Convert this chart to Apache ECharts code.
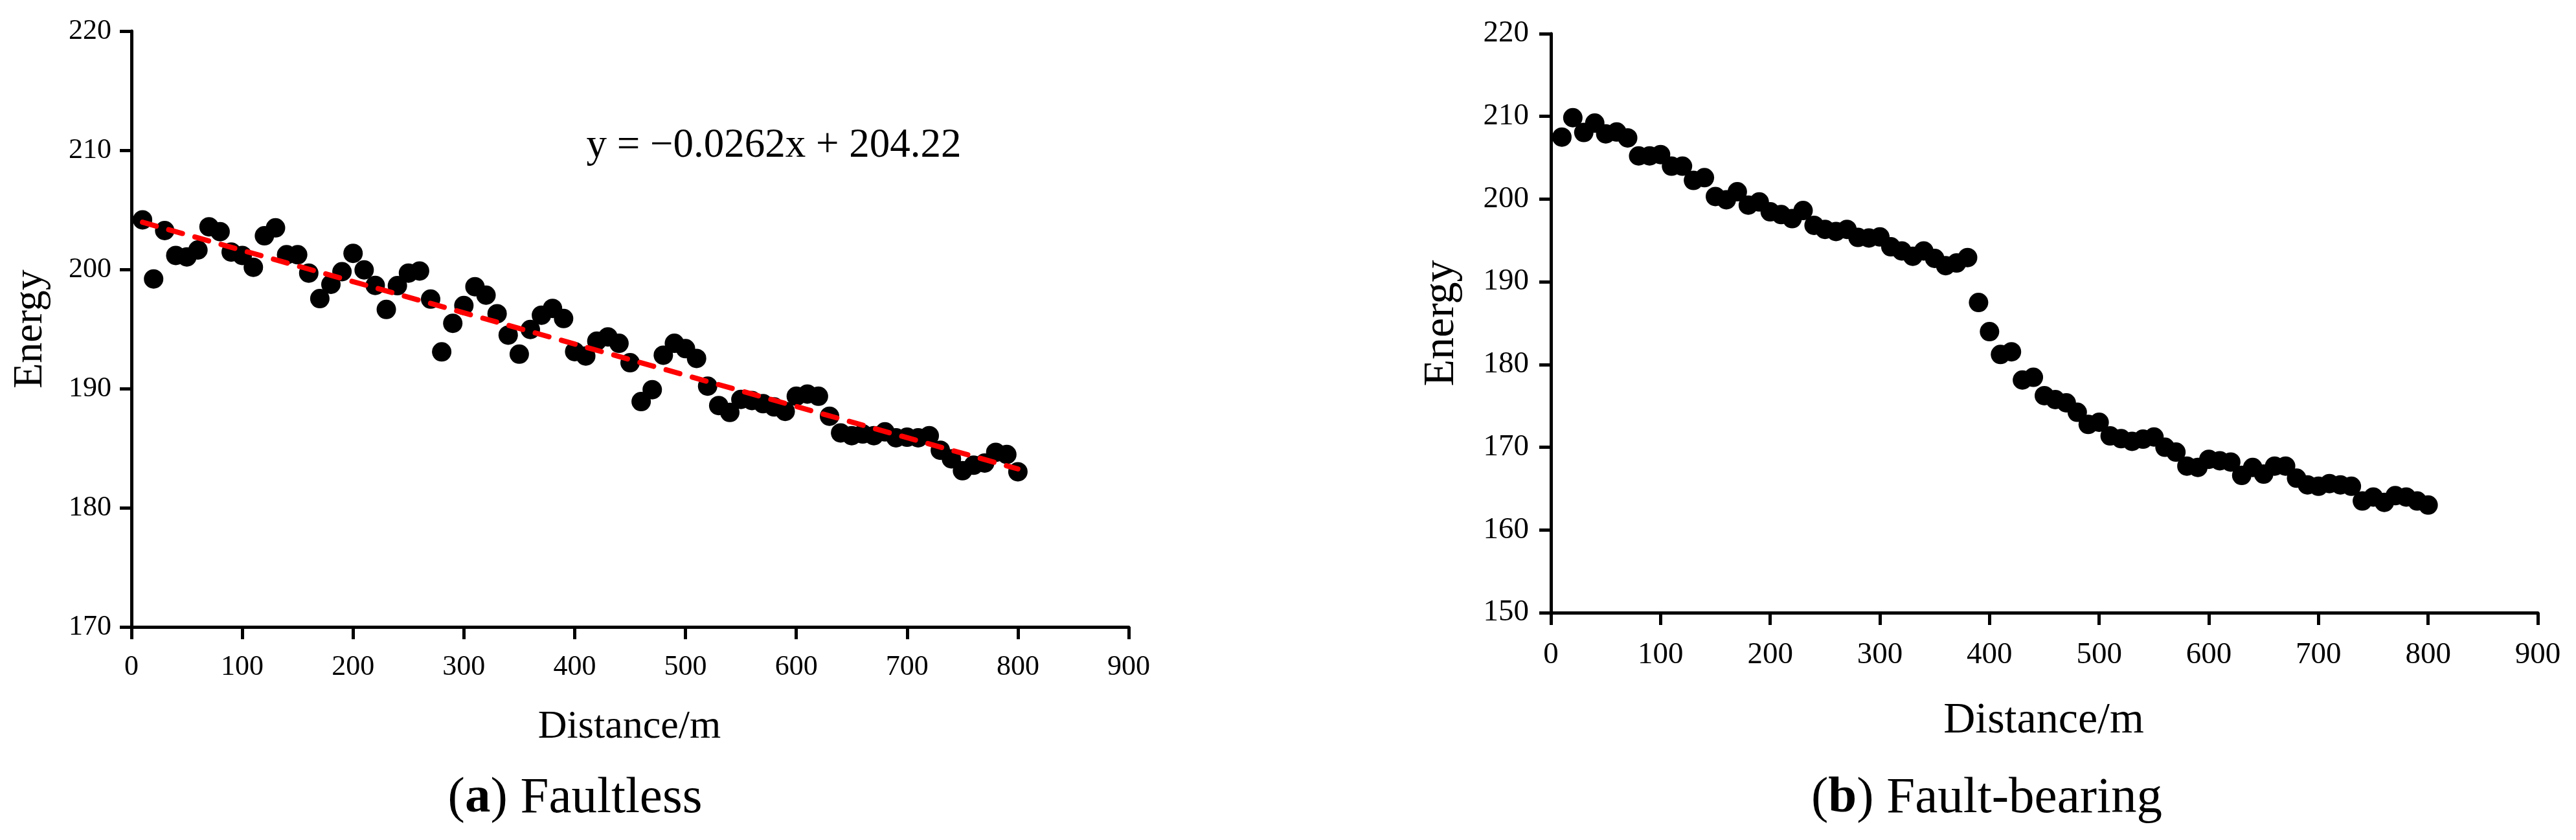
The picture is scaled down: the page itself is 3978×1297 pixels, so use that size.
<!DOCTYPE html>
<html>
<head>
<meta charset="utf-8">
<script src="https://cdn.jsdelivr.net/npm/echarts@6/dist/echarts.min.js"></script>
<style>
html,body{margin:0;padding:0;background:#fff;}
#chart{width:3978px;height:1297px;}
</style>
</head>
<body>
<div id="chart"></div>
<script>
// ---- data ----
const distances = [10,20,30,40,50,60,70,80,90,100,110,120,130,140,150,160,170,180,190,200,
  210,220,230,240,250,260,270,280,290,300,310,320,330,340,350,360,370,380,390,400,
  410,420,430,440,450,460,470,480,490,500,510,520,530,540,550,560,570,580,590,600,
  610,620,630,640,650,660,670,680,690,700,710,720,730,740,750,760,770,780,790,800];

const faultlessEnergy = [204.16,199.2,203.26,201.17,201.05,201.63,203.58,203.17,201.46,201.17,
  200.18,202.82,203.49,201.23,201.23,199.69,197.55,198.75,199.81,201.35,
  199.96,198.66,196.64,198.64,199.69,199.87,197.51,193.08,195.48,196.97,
  198.55,197.84,196.28,194.49,192.89,194.96,196.16,196.73,195.88,193.1,
  192.73,193.98,194.34,193.8,192.17,188.91,189.91,192.8,193.8,193.35,
  192.53,190.21,188.58,188.0,189.09,189.0,188.73,188.46,188.09,189.36,
  189.54,189.36,187.68,186.28,186.05,186.19,186.05,186.37,185.87,185.92,
  185.87,186.05,184.83,184.11,183.11,183.57,183.75,184.65,184.47,183.02];

const faultBearingEnergy = [207.5,209.84,208.05,209.19,207.89,208.11,207.4,205.22,205.22,205.38,
  203.98,203.98,202.26,202.59,200.31,199.92,200.89,199.27,199.66,198.46,
  198.13,197.64,198.62,196.83,196.34,196.08,196.34,195.37,195.3,195.43,
  194.23,193.74,193.09,193.74,192.83,191.95,192.28,192.93,187.5,183.98,
  181.22,181.54,178.13,178.46,176.24,175.76,175.37,174.23,172.76,173.02,
  171.37,171.04,170.72,170.98,171.24,170.0,169.41,167.72,167.56,168.54,
  168.37,168.21,166.59,167.56,166.75,167.72,167.72,166.26,165.45,165.28,
  165.61,165.45,165.28,163.5,163.98,163.33,164.15,163.98,163.5,163.01];

// linear fit shown on panel (a)
const fitSlope = -0.0262;
const fitIntercept = 204.22;
const fitRange = [10, 800];

const xTicks = [0,100,200,300,400,500,600,700,800,900];
const yTicksA = [170,180,190,200,210,220];
const yTicksB = [150,160,170,180,190,200,210,220];

const equationText = 'y = \u22120.0262x + 204.22';
const captionA = ['a', 'Faultless'];
const captionB = ['b', 'Fault-bearing'];

// ---- chart ----
const FONT = 'Liberation Serif';
const chart = echarts.init(document.getElementById('chart'), null, {renderer:'canvas'});

function xAxisCfg(gridIndex, fs) {
  return {
    type:'value', gridIndex, min:xTicks[0], max:xTicks[xTicks.length-1], interval:100,
    axisLine:{show:true, onZero:false, lineStyle:{color:'#000', width:5}},
    axisTick:{show:true, length:19, lineStyle:{color:'#000', width:5}},
    axisLabel:{color:'#000', fontFamily:FONT, fontSize:fs, fontWeight:'normal', margin:gridIndex===0?40:42,
      formatter:function(v){return String(v);}},
    splitLine:{show:false}
  };
}
function yAxisCfg(gridIndex, ticks, fs) {
  return {
    type:'value', gridIndex, min:ticks[0], max:ticks[ticks.length-1], interval:10,
    axisLine:{show:true, onZero:false, lineStyle:{color:'#000', width:5}},
    axisTick:{show:true, length:18, lineStyle:{color:'#000', width:5}},
    axisLabel:{color:'#000', fontFamily:FONT, fontSize:fs, fontWeight:'normal', margin:gridIndex===0?31:34,
      formatter:function(v){return String(v);}},
    splitLine:{show:false}
  };
}

const faultlessData = distances.map((d,i)=>[d, faultlessEnergy[i]]);
const faultBearingData = distances.map((d,i)=>[d, faultBearingEnergy[i]]);
const fitData = fitRange.map(x=>[x, fitSlope*x + fitIntercept]);

function caption(x, y, parts) {
  return {
    type:'text', x:x, y:y,
    style:{
      text:'{p|(}{b|' + parts[0] + '}{p|) ' + parts[1] + '}',
      textAlign:'center', textVerticalAlign:'middle',
      rich:{
        p:{fontFamily:FONT, fontSize:79, fill:'#000', fontWeight:'normal'},
        b:{fontFamily:FONT, fontSize:79, fill:'#000', fontWeight:'bold'}
      }
    }
  };
}

const option = {
  backgroundColor:'#fff',
  animation:false,
  textStyle:{fontFamily:FONT, color:'#000'},
  grid:[
    {left:203, top:48, width:1540, height:920, containLabel:false},
    {left:2395, top:52, width:1524, height:894, containLabel:false}
  ],
  xAxis:[xAxisCfg(0,44), xAxisCfg(1,47)],
  yAxis:[yAxisCfg(0,yTicksA,44), yAxisCfg(1,yTicksB,47)],
  series:[
    {type:'scatter', xAxisIndex:0, yAxisIndex:0, data:faultlessData, symbol:'circle', symbolSize:30,
     itemStyle:{color:'#000', opacity:1}, z:2},
    {type:'line', xAxisIndex:0, yAxisIndex:0, data:fitData, showSymbol:false, symbol:'none',
     lineStyle:{color:'#ff0000', width:8, type:[22,20], cap:'round'}, z:3},
    {type:'scatter', xAxisIndex:1, yAxisIndex:1, data:faultBearingData, symbol:'circle', symbolSize:30,
     itemStyle:{color:'#000', opacity:1}, z:2}
  ],
  graphic:[
    {type:'text', x:47, y:508, rotation:Math.PI/2,
     style:{text:'Energy', font:'64px ' + FONT, fill:'#000', textAlign:'center', textVerticalAlign:'middle'}},
    {type:'text', x:2226, y:499, rotation:Math.PI/2,
     style:{text:'Energy', font:'68px ' + FONT, fill:'#000', textAlign:'center', textVerticalAlign:'middle'}},
    {type:'text', x:972, y:1123,
     style:{text:'Distance/m', font:'62px ' + FONT, fill:'#000', textAlign:'center', textVerticalAlign:'middle'}},
    {type:'text', x:3156, y:1113,
     style:{text:'Distance/m', font:'68px ' + FONT, fill:'#000', textAlign:'center', textVerticalAlign:'middle'}},
    {type:'text', x:1195, y:225,
     style:{text:equationText, font:'63px ' + FONT, fill:'#000', textAlign:'center', textVerticalAlign:'middle'}},
    caption(888, 1233, captionA),
    caption(3068, 1233, captionB)
  ]
};
chart.setOption(option);
</script>
</body>
</html>
